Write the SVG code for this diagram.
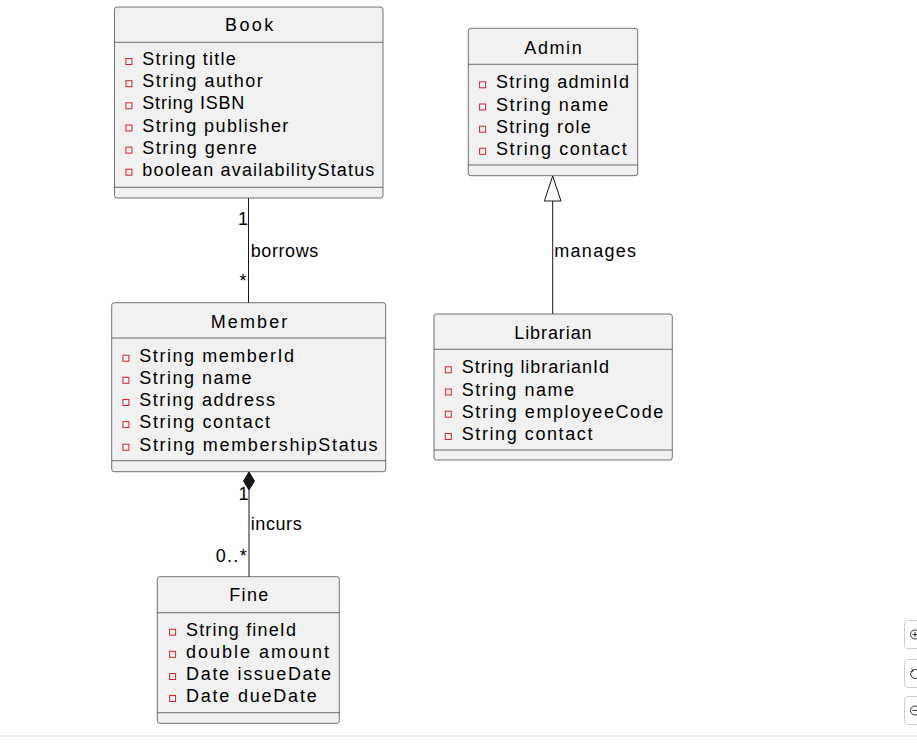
<svg xmlns="http://www.w3.org/2000/svg" width="917" height="752" viewBox="0 0 917 752">
<style>
.box{fill:#F1F1F1;stroke:#181818;stroke-width:0.6}
.sep{stroke:#181818;stroke-width:0.6}
.t{font-family:"Liberation Sans",Arial,sans-serif;font-size:18px;fill:#000}
.lbl{font-family:"Liberation Sans",Arial,sans-serif;font-size:18px;fill:#000}
.pv{fill:none;stroke:#C82930;stroke-width:1}
.ln{stroke:#181818;stroke-width:1;fill:none}
.ui{fill:#fff;stroke:#cfcfcf;stroke-width:1}
</style>
<rect width="917" height="752" fill="#fff"/>

<g id="connectors">
  <line class="ln" x1="248.5" y1="198" x2="248.5" y2="303"/>
  <text class="lbl" x="238" y="225" textLength="7.7" lengthAdjust="spacing">1</text>
  <text class="lbl" x="250.7" y="256.7" textLength="67.6" lengthAdjust="spacing">borrows</text>
  <text class="lbl" x="239.5" y="287">*</text>

  <line class="ln" x1="552.7" y1="201" x2="552.7" y2="314"/>
  <polygon points="552.7,176 561,201 544.4,201" fill="none" stroke="#181818" stroke-width="1"/>
  <text class="lbl" x="554.3" y="256.7" textLength="81.7" lengthAdjust="spacing">manages</text>

  <line class="ln" x1="249" y1="490" x2="249" y2="577"/>
  <polygon points="249,472 254.5,481 249,490 243.5,481" fill="#181818" stroke="#181818" stroke-width="1"/>
  <text class="lbl" x="238.5" y="499.5" textLength="7" lengthAdjust="spacing">1</text>
  <text class="lbl" x="250.7" y="530" textLength="51" lengthAdjust="spacing">incurs</text>
  <text class="lbl" x="215.7" y="562" textLength="31" lengthAdjust="spacing">0..*</text>
</g>

<g id="Book">
  <rect class="box" x="114.5" y="7" width="268.5" height="191" rx="2.5"/>
  <line class="sep" x1="114.5" y1="42.3" x2="383" y2="42.3"/>
  <line class="sep" x1="114.5" y1="187.3" x2="383" y2="187.3"/>
  <text class="t" x="225" y="30.7" textLength="48.3" lengthAdjust="spacing">Book</text>
  <rect class="pv" x="125.9" y="58.5" width="6" height="6"/>
  <text class="t" x="142.3" y="65" textLength="93.4" lengthAdjust="spacing">String title</text>
  <rect class="pv" x="125.9" y="80.7" width="6" height="6"/>
  <text class="t" x="142.3" y="87.2" textLength="120.4" lengthAdjust="spacing">String author</text>
  <rect class="pv" x="125.9" y="102.8" width="6" height="6"/>
  <text class="t" x="142.3" y="109.3" textLength="102" lengthAdjust="spacing">String ISBN</text>
  <rect class="pv" x="125.9" y="125" width="6" height="6"/>
  <text class="t" x="142.3" y="131.5" textLength="146" lengthAdjust="spacing">String publisher</text>
  <rect class="pv" x="125.9" y="147.1" width="6" height="6"/>
  <text class="t" x="142.3" y="153.6" textLength="114.4" lengthAdjust="spacing">String genre</text>
  <rect class="pv" x="125.9" y="169.2" width="6" height="6"/>
  <text class="t" x="142.3" y="175.7" textLength="232" lengthAdjust="spacing">boolean availabilityStatus</text>
</g>

<g id="Admin">
  <rect class="box" x="468.3" y="28.3" width="169.4" height="147.4" rx="2.5"/>
  <line class="sep" x1="468.3" y1="64.3" x2="637.7" y2="64.3"/>
  <line class="sep" x1="468.3" y1="165" x2="637.7" y2="165"/>
  <text class="t" x="524.3" y="54" textLength="57.4" lengthAdjust="spacing">Admin</text>
  <rect class="pv" x="479.6" y="81.8" width="6" height="6"/>
  <text class="t" x="496" y="88.3" textLength="133" lengthAdjust="spacing">String adminId</text>
  <rect class="pv" x="479.6" y="104" width="6" height="6"/>
  <text class="t" x="496" y="110.5" textLength="112.3" lengthAdjust="spacing">String name</text>
  <rect class="pv" x="479.6" y="126.2" width="6" height="6"/>
  <text class="t" x="496" y="132.7" textLength="94.7" lengthAdjust="spacing">String role</text>
  <rect class="pv" x="479.6" y="148.3" width="6" height="6"/>
  <text class="t" x="496" y="154.8" textLength="130.7" lengthAdjust="spacing">String contact</text>
</g>

<g id="Member">
  <rect class="box" x="111.7" y="302.7" width="274" height="169" rx="2.5"/>
  <line class="sep" x1="111.7" y1="338" x2="385.7" y2="338"/>
  <line class="sep" x1="111.7" y1="460.7" x2="385.7" y2="460.7"/>
  <text class="t" x="210.7" y="328.3" textLength="76.6" lengthAdjust="spacing">Member</text>
  <rect class="pv" x="122.9" y="355.2" width="6" height="6"/>
  <text class="t" x="139.3" y="361.7" textLength="154.7" lengthAdjust="spacing">String memberId</text>
  <rect class="pv" x="122.9" y="377.3" width="6" height="6"/>
  <text class="t" x="139.3" y="383.8" textLength="112.3" lengthAdjust="spacing">String name</text>
  <rect class="pv" x="122.9" y="399.5" width="6" height="6"/>
  <text class="t" x="139.3" y="406" textLength="135.7" lengthAdjust="spacing">String address</text>
  <rect class="pv" x="122.9" y="421.6" width="6" height="6"/>
  <text class="t" x="139.3" y="428.1" textLength="130.7" lengthAdjust="spacing">String contact</text>
  <rect class="pv" x="122.9" y="444.2" width="6" height="6"/>
  <text class="t" x="139.3" y="450.7" textLength="238.3" lengthAdjust="spacing">String membershipStatus</text>
</g>

<g id="Librarian">
  <rect class="box" x="434" y="314" width="238.3" height="146" rx="2.5"/>
  <line class="sep" x1="434" y1="349.3" x2="672.3" y2="349.3"/>
  <line class="sep" x1="434" y1="450" x2="672.3" y2="450"/>
  <text class="t" x="514.3" y="339.3" textLength="77.3" lengthAdjust="spacing">Librarian</text>
  <rect class="pv" x="445.3" y="366.8" width="6" height="6"/>
  <text class="t" x="461.7" y="373.3" textLength="147.3" lengthAdjust="spacing">String librarianId</text>
  <rect class="pv" x="445.3" y="389" width="6" height="6"/>
  <text class="t" x="461.7" y="395.5" textLength="112.3" lengthAdjust="spacing">String name</text>
  <rect class="pv" x="445.3" y="411.2" width="6" height="6"/>
  <text class="t" x="461.7" y="417.7" textLength="201.6" lengthAdjust="spacing">String employeeCode</text>
  <rect class="pv" x="445.3" y="433.5" width="6" height="6"/>
  <text class="t" x="461.7" y="440" textLength="130.7" lengthAdjust="spacing">String contact</text>
</g>

<g id="Fine">
  <rect class="box" x="157.3" y="576.7" width="182" height="146.6" rx="2.5"/>
  <line class="sep" x1="157.3" y1="612.7" x2="339.3" y2="612.7"/>
  <line class="sep" x1="157.3" y1="712.7" x2="339.3" y2="712.7"/>
  <text class="t" x="229.3" y="600.7" textLength="39" lengthAdjust="spacing">Fine</text>
  <rect class="pv" x="169.6" y="629.2" width="6" height="6"/>
  <text class="t" x="186" y="635.7" textLength="110" lengthAdjust="spacing">String fineId</text>
  <rect class="pv" x="169.6" y="651.3" width="6" height="6"/>
  <text class="t" x="186" y="657.8" textLength="143" lengthAdjust="spacing">double amount</text>
  <rect class="pv" x="169.6" y="673.5" width="6" height="6"/>
  <text class="t" x="186" y="680" textLength="145" lengthAdjust="spacing">Date issueDate</text>
  <rect class="pv" x="169.6" y="695.5" width="6" height="6"/>
  <text class="t" x="186" y="702" textLength="130.7" lengthAdjust="spacing">Date dueDate</text>
</g>

<line x1="0" y1="736" x2="917" y2="736" stroke="#cddbe8" stroke-width="1"/>
<g id="controls">
  <rect class="ui" x="904.5" y="620.5" width="30" height="28" rx="3"/>
  <circle cx="915" cy="634.5" r="4.5" fill="none" stroke="#333" stroke-width="1"/>
  <path d="M912.5 634.5h5M915 632v5" stroke="#333" stroke-width="1"/>
  <rect class="ui" x="904.5" y="659.5" width="30" height="28" rx="3"/>
  <path d="M918 670.5a4.5 4.5 0 1 0 0 7" fill="none" stroke="#333" stroke-width="1"/>
  <path d="M911.5 668.5l2 2.5l-3 0.5" fill="none" stroke="#333" stroke-width="1"/>
  <rect class="ui" x="904.5" y="696.5" width="30" height="28" rx="3"/>
  <circle cx="915" cy="710.5" r="4.5" fill="none" stroke="#333" stroke-width="1"/>
  <path d="M912.5 710.5h5" stroke="#333" stroke-width="1"/>
</g>
</svg>
